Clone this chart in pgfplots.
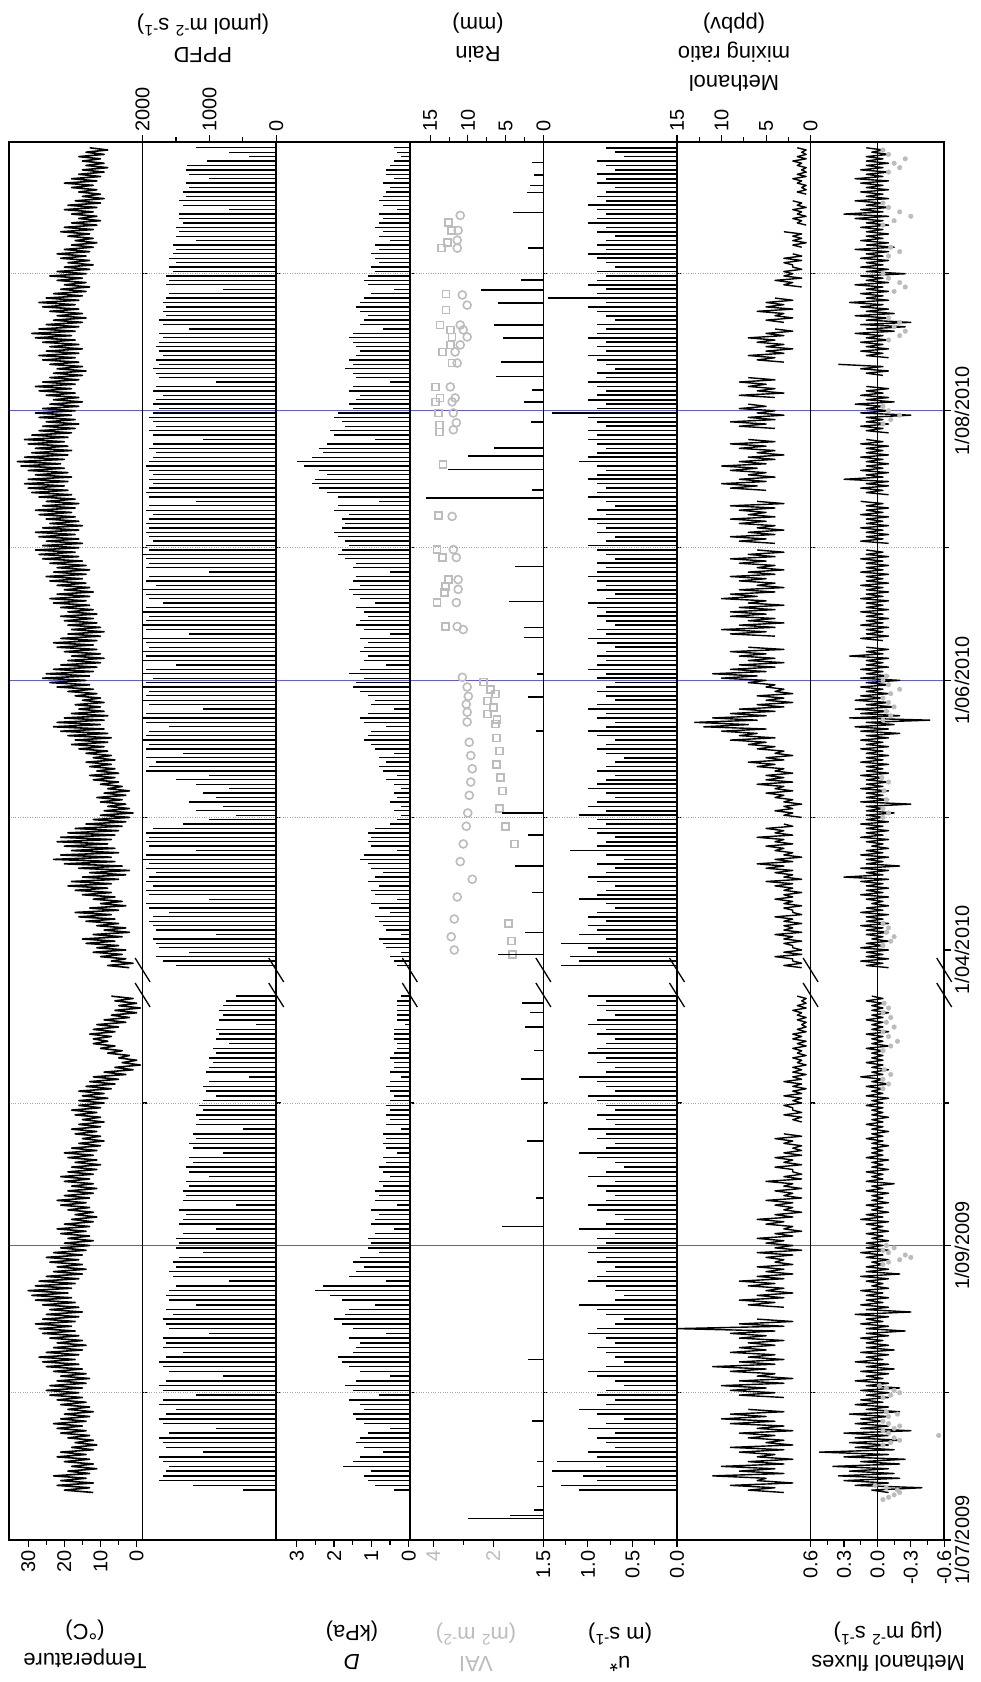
\documentclass[border=0pt]{standalone}
\usepackage{pgfplots}
\pgfplotsset{compat=1.18}
\usepackage{pgfplotstable}
\usepackage{fontspec}
\setmainfont{Liberation Sans}
\definecolor{gridblue}{RGB}{95,95,195}
\definecolor{lgrey}{RGB}{188,188,188}
\definecolor{dotgrey}{RGB}{165,165,165}

% time is typed in days (u): u = days since 1/07/2009 before the break,
% u = days since 1/07/2009 - 140 after it; the broken axis maps u to display units.
\pgfplotsset{
 panel/.style={scale only axis, width=133.6bp, height=1398bp, anchor=south west,
   ymin=0, ymax=1398, x dir=reverse,
   y filter/.expression={y<126 ? 4.75*y : 4.42*y-2.28},
   axis line style={line width=1.5bp},
   tick align=outside, ytick pos=right,
   ytick={294.5,859.6,1129.2}, minor ytick={147.3,437,722.6,992.2,1266.3}, yticklabels={},
   ymajorgrids, yminorgrids,
   major grid style={gridblue, line width=0.9bp},
   minor grid style={dotgrey, dotted, line width=0.9bp},
   major tick length=7bp, minor tick length=4.5bp,
   tick style={black, line width=1.1bp},
   tick label style={font=\fontsize{20}{22}\selectfont},
   /pgf/number format/assume math mode=true,
   /pgf/number format/1000 sep={},
 },
 bott/.style={xtick pos=left, xticklabel pos=left, xticklabel style={rotate=90, anchor=east}},
 topt/.style={xtick pos=right, xticklabel pos=right, xticklabel style={rotate=90, anchor=west}},
 dat/.style={black, line width=1.4bp, line join=round},
 comb/.style={xcomb, black, line width=1.3bp},
}

% Temperature, daily min/max (half-day steps), 10/07/2009 - 23/10/2009
\pgfplotstableread[row sep=\\,header=false]{
12\\20\\13\\22\\12\\21\\14\\23\\13\\19\\11\\18\\12\\20\\13\\22\\14\\21\\12\\18\\
11\\17\\12\\19\\13\\21\\14\\22\\15\\23\\14\\21\\13\\20\\12\\19\\13\\21\\14\\22\\
15\\24\\16\\25\\15\\24\\14\\22\\13\\21\\14\\23\\15\\25\\16\\26\\17\\27\\16\\25\\
15\\23\\14\\22\\15\\24\\16\\26\\17\\27\\18\\28\\17\\26\\16\\25\\15\\24\\16\\26\\
17\\28\\18\\29\\19\\30\\18\\28\\17\\27\\16\\25\\15\\23\\14\\22\\15\\24\\16\\25\\
15\\23\\14\\21\\13\\20\\12\\19\\13\\21\\14\\22\\13\\20\\12\\18\\11\\17\\12\\19\\
13\\21\\14\\22\\13\\20\\12\\19\\11\\18\\12\\20\\13\\21\\12\\19\\11\\18\\10\\17\\
11\\19\\12\\20\\11\\18\\10\\16\\9\\15\\10\\17\\11\\18\\10\\16\\9\\15\\10\\17\\
11\\18\\10\\16\\9\\16\\8\\15\\9\\16\\7\\14\\6\\13\\5\\12\\3\\9\\1\\6\\
-1\\4\\0\\5\\2\\8\\4\\10\\6\\12\\8\\12\\7\\13\\6\\12\\5\\11\\3\\9\\
2\\7\\0\\6\\-1\\5\\0\\6\\1\\7\\
}\Tpre
\pgfplotstableread[row sep=\\,header=false]{
2\\8\\1\\7\\3\\10\\4\\12\\3\\11\\5\\14\\6\\15\\4\\12\\2\\9\\3\\11\\
5\\14\\6\\16\\7\\17\\5\\13\\3\\10\\4\\12\\6\\15\\7\\17\\8\\19\\7\\18\\
5\\15\\3\\13\\2\\16\\4\\20\\6\\23\\7\\21\\5\\18\\6\\20\\8\\22\\7\\21\\
6\\19\\5\\17\\4\\14\\3\\12\\2\\10\\1\\9\\2\\8\\3\\10\\4\\11\\3\\9\\
2\\8\\4\\10\\5\\12\\6\\13\\5\\11\\6\\13\\7\\14\\6\\12\\7\\14\\8\\16\\
9\\18\\8\\17\\7\\19\\8\\21\\9\\23\\10\\22\\9\\20\\8\\18\\9\\16\\10\\17\\
9\\15\\10\\17\\11\\19\\12\\22\\13\\24\\14\\26\\13\\25\\12\\23\\11\\21\\10\\19\\
9\\18\\10\\20\\11\\22\\12\\23\\11\\21\\10\\19\\9\\18\\10\\19\\11\\20\\12\\21\\
11\\19\\12\\21\\13\\23\\14\\24\\13\\22\\12\\20\\13\\22\\14\\24\\15\\25\\14\\23\\
13\\22\\14\\24\\15\\26\\16\\27\\17\\28\\16\\26\\15\\25\\16\\27\\17\\28\\16\\26\\
15\\24\\16\\25\\17\\27\\18\\28\\17\\26\\16\\25\\17\\27\\18\\29\\19\\30\\20\\31\\
19\\30\\18\\28\\19\\30\\20\\32\\21\\33\\20\\31\\19\\29\\18\\28\\19\\30\\20\\31\\
19\\29\\18\\27\\17\\26\\16\\25\\17\\27\\18\\28\\17\\26\\16\\24\\15\\23\\16\\25\\
17\\27\\18\\28\\17\\26\\16\\24\\15\\23\\14\\22\\15\\24\\16\\26\\17\\27\\16\\25\\
15\\24\\16\\26\\17\\28\\18\\29\\17\\27\\16\\25\\15\\23\\14\\22\\15\\24\\16\\26\\
17\\27\\16\\25\\15\\23\\14\\21\\13\\20\\14\\22\\15\\24\\14\\22\\13\\20\\12\\19\\
13\\21\\14\\22\\13\\20\\12\\18\\11\\17\\12\\19\\13\\21\\12\\20\\11\\18\\10\\16\\
11\\18\\12\\20\\11\\19\\10\\17\\9\\15\\10\\16\\11\\18\\12\\20\\11\\18\\10\\16\\
9\\15\\8\\14\\9\\15\\10\\16\\9\\14\\8\\13\\
}\Tpost

% PPFD daily peaks
\pgfplotstableread[row sep=\\,header=false]{
500\\1250\\1750\\1700\\1650\\1600\\1700\\1750\\1100\\1650\\
1700\\1750\\1600\\900\\1700\\1750\\1650\\1500\\1750\\1700\\
1200\\1700\\1750\\1650\\800\\1600\\1700\\1750\\1650\\1400\\
1700\\1650\\1700\\1000\\1600\\1650\\1700\\1550\\1650\\1200\\
1600\\1650\\1600\\1500\\700\\1550\\1600\\1500\\1550\\1450\\
1100\\1500\\1450\\1500\\1400\\900\\1450\\1400\\1350\\1450\\
600\\1400\\1350\\1400\\1300\\1350\\1000\\1300\\1350\\1250\\
1300\\800\\1250\\1300\\1200\\1250\\500\\1200\\1150\\1200\\
1100\\1150\\1100\\900\\1050\\1100\\1000\\400\\1050\\1000\\
950\\1000\\900\\950\\700\\900\\850\\900\\300\\850\\
800\\850\\800\\750\\600\\
}\Ppre
\pgfplotstableread[row sep=\\,header=false]{
1500\\1700\\1800\\1300\\1750\\1800\\1850\\900\\1800\\1850\\
1900\\1850\\1600\\1900\\1950\\1000\\1900\\1950\\1850\\1950\\
1900\\1800\\1950\\1900\\2000\\1950\\1200\\1900\\1950\\1900\\
1950\\1850\\1400\\1000\\600\\1200\\800\\1300\\900\\1100\\
700\\1200\\1500\\1000\\1950\\1900\\1800\\1950\\1400\\1950\\
1900\\2000\\1950\\1900\\1600\\1950\\2000\\1950\\1100\\1900\\
2000\\1950\\1900\\2000\\1950\\1850\\2000\\1950\\1500\\2000\\
1950\\2000\\1900\\1950\\2000\\1300\\1950\\2000\\1950\\1900\\
2000\\1950\\1700\\1900\\1950\\2000\\1800\\1950\\1900\\1000\\
1950\\1900\\1950\\2000\\1900\\1950\\1850\\1900\\1950\\1900\\
1950\\1900\\1850\\1950\\1900\\1200\\1900\\1950\\1900\\1850\\
1900\\1850\\1900\\1950\\1900\\1850\\1800\\1900\\1850\\1100\\
1850\\1900\\1800\\1850\\1900\\1850\\1750\\1850\\1800\\1700\\
1850\\1800\\900\\1750\\1800\\1850\\1750\\1800\\1700\\1750\\
1800\\1750\\1700\\1750\\1300\\1700\\1750\\1650\\1700\\1650\\
1700\\1650\\1600\\800\\1650\\1600\\1650\\1550\\1600\\1500\\
1600\\1550\\1500\\1550\\1200\\1500\\1450\\1500\\1400\\1450\\
1450\\700\\1400\\1450\\1350\\1400\\1300\\1350\\1000\\1300\\
1350\\1340\\1030\\400\\700\\1200\\
}\Ppost

% D daily peaks
\pgfplotstableread[row sep=\\,header=false]{
0.4\\0.9\\1.1\\1.2\\1.0\\1.75\\1.5\\1.3\\0.7\\1.2\\
1.4\\1.3\\1.1\\0.5\\1.2\\1.4\\1.5\\1.2\\1.3\\1.6\\
0.8\\1.5\\1.7\\1.4\\0.5\\1.3\\1.6\\1.8\\1.9\\1.5\\
1.4\\1.3\\1.6\\0.6\\1.5\\1.8\\2.0\\1.7\\1.6\\0.9\\
1.8\\2.1\\2.5\\2.3\\0.6\\1.6\\1.4\\1.2\\1.5\\1.3\\
0.8\\1.1\\1.0\\1.1\\0.9\\0.4\\1.0\\0.9\\0.8\\1.0\\
0.3\\0.9\\0.8\\0.9\\0.7\\0.8\\0.5\\0.7\\0.8\\0.6\\
0.7\\0.3\\0.6\\0.7\\0.6\\0.7\\0.2\\0.6\\0.5\\0.6\\
0.5\\0.6\\0.5\\0.4\\0.5\\0.6\\0.5\\0.2\\0.5\\0.4\\
0.4\\0.5\\0.4\\0.3\\0.3\\0.4\\0.4\\0.4\\0.1\\0.3\\
0.3\\0.3\\0.3\\0.3\\0.2\\
}\Dpre
\pgfplotstableread[row sep=\\,header=false]{
0.3\\0.4\\0.5\\0.2\\0.6\\0.7\\0.8\\0.2\\0.6\\0.7\\
0.8\\0.9\\0.5\\0.8\\1.0\\0.3\\0.9\\1.0\\0.8\\1.1\\
0.9\\0.7\\1.0\\1.1\\1.3\\1.2\\0.3\\1.0\\1.1\\1.0\\
1.1\\0.9\\0.5\\0.3\\0.2\\0.4\\0.2\\0.5\\0.3\\0.4\\
0.2\\0.4\\0.6\\0.3\\0.7\\0.8\\0.6\\0.8\\0.4\\0.9\\
1.0\\1.2\\1.1\\1.0\\0.6\\1.2\\1.3\\1.1\\0.4\\1.0\\
0.9\\1.1\\1.3\\1.5\\1.4\\1.2\\1.6\\1.3\\0.6\\1.2\\
1.1\\1.3\\1.2\\1.1\\1.3\\0.5\\1.2\\1.4\\1.3\\1.1\\
1.2\\1.4\\0.9\\1.3\\1.5\\1.6\\1.3\\1.5\\1.4\\0.5\\
1.5\\1.4\\1.7\\1.9\\1.8\\1.6\\1.7\\1.9\\2.0\\1.8\\
1.7\\1.8\\1.6\\2.0\\1.9\\0.8\\1.9\\2.2\\2.4\\2.6\\
2.5\\2.2\\2.4\\2.8\\3.0\\2.6\\2.3\\2.4\\2.2\\0.9\\
2.0\\2.1\\1.7\\1.8\\2.0\\1.9\\1.5\\1.6\\1.4\\1.3\\
1.6\\1.5\\0.5\\1.4\\1.5\\1.7\\1.5\\1.6\\1.4\\1.3\\
1.4\\1.5\\1.6\\1.5\\0.7\\1.3\\1.2\\1.1\\1.3\\1.4\\
1.3\\1.2\\1.0\\0.4\\1.1\\1.2\\1.1\\0.9\\1.0\\0.8\\
0.9\\1.0\\0.8\\0.9\\0.5\\0.8\\0.7\\0.9\\0.8\\0.7\\
0.8\\0.3\\0.7\\0.8\\0.7\\0.6\\0.5\\0.7\\0.4\\0.6\\
0.6\\0.5\\0.4\\0.2\\0.3\\0.4\\
}\Dpost

% u* daily peaks
\pgfplotstableread[row sep=\\,header=false]{
1.1\\1.3\\0.9\\1.05\\1.4\\0.8\\1.35\\0.9\\1.0\\0.7\\
0.8\\0.9\\0.7\\1.0\\0.8\\0.6\\0.9\\1.1\\0.8\\0.7\\
0.9\\0.8\\0.6\\0.7\\0.9\\1.0\\0.8\\0.6\\0.7\\0.8\\
0.9\\0.7\\0.8\\1.0\\0.9\\0.7\\0.6\\0.8\\0.9\\1.1\\
0.7\\0.6\\0.7\\0.8\\1.0\\0.9\\0.8\\0.7\\0.9\\0.8\\
1.0\\0.9\\0.8\\0.9\\0.7\\1.1\\0.8\\0.6\\0.7\\0.9\\
1.0\\0.8\\0.7\\0.8\\0.9\\0.7\\1.0\\0.8\\0.6\\0.7\\
0.9\\1.1\\0.8\\0.7\\0.9\\0.8\\1.0\\0.7\\0.8\\0.9\\
0.7\\0.8\\0.9\\1.0\\0.7\\0.8\\0.9\\1.1\\0.8\\0.7\\
0.9\\0.8\\1.0\\0.9\\0.8\\0.7\\0.9\\0.8\\1.0\\0.9\\
0.7\\0.8\\0.9\\0.8\\1.0\\
}\Upre
\pgfplotstableread[row sep=\\,header=false]{
1.3\\1.1\\1.2\\0.9\\1.0\\1.3\\0.8\\1.1\\0.9\\1.0\\
0.8\\1.0\\0.9\\0.7\\0.8\\1.1\\0.9\\0.8\\0.7\\0.9\\
1.0\\0.8\\0.7\\0.9\\0.6\\0.8\\1.2\\0.9\\0.8\\0.7\\
0.9\\1.0\\0.8\\0.9\\1.1\\0.8\\1.0\\0.9\\0.7\\0.8\\
1.0\\0.9\\0.8\\0.7\\0.9\\0.8\\0.7\\0.6\\0.8\\0.9\\
0.8\\0.7\\0.9\\1.0\\0.8\\0.7\\0.9\\0.8\\1.0\\0.9\\
0.7\\0.8\\0.9\\0.8\\0.7\\0.9\\0.8\\1.0\\0.9\\0.8\\
0.9\\0.8\\0.7\\0.9\\1.0\\0.8\\0.9\\0.7\\0.8\\0.9\\
0.8\\0.9\\1.0\\0.8\\0.7\\0.9\\0.8\\0.9\\1.0\\0.9\\
0.8\\0.9\\0.7\\0.8\\0.9\\1.0\\0.8\\0.7\\0.9\\0.8\\
0.9\\1.0\\0.8\\0.9\\0.7\\0.8\\1.0\\0.9\\0.8\\0.9\\
1.0\\0.9\\0.8\\0.9\\1.1\\1.0\\0.9\\0.8\\0.9\\1.0\\
0.9\\1.0\\0.8\\0.9\\1.0\\1.4\\0.9\\0.8\\1.0\\0.9\\
0.8\\0.9\\1.0\\0.8\\0.9\\0.7\\0.8\\0.9\\1.0\\0.8\\
0.9\\0.8\\1.0\\0.9\\0.8\\0.9\\0.7\\0.8\\0.9\\1.0\\
0.8\\1.45\\0.9\\0.8\\1.0\\0.9\\0.8\\0.9\\0.7\\0.8\\
0.9\\1.0\\0.8\\0.9\\0.8\\0.7\\0.9\\0.8\\1.0\\0.9\\
0.8\\0.9\\1.0\\0.8\\0.9\\0.8\\0.7\\0.9\\0.8\\0.9\\
0.7\\0.8\\0.9\\0.6\\0.7\\0.8\\
}\Upost

% Methanol mixing ratio, daily low/high
\pgfplotstableread[row sep=\\,header=false]{
3\\7\\4\\9\\2\\6\\5\\11\\3\\8\\4\\10\\3\\7\\2\\6\\4\\8\\3\\9\\2\\5\\
3\\7\\4\\8\\2\\6\\3\\9\\4\\10\\5\\9\\3\\7\\nan\\nan\\nan\\nan\\3\\8\\
4\\9\\5\\10\\3\\8\\2\\6\\4\\9\\5\\11\\4\\8\\3\\7\\4\\9\\5\\8\\
4\\7\\3\\8\\5\\9\\4\\15\\3\\8\\2\\6\\nan\\nan\\nan\\nan\\3\\7\\4\\8\\
3\\6\\2\\5\\3\\7\\4\\8\\3\\6\\2\\5\\3\\6\\2\\4\\3\\5\\2\\6\\1\\4\\
2\\5\\3\\6\\2\\4\\1\\3\\2\\5\\3\\6\\2\\4\\1\\3\\2\\4\\2\\5\\
1\\3\\2\\4\\1\\3\\2\\5\\1\\3\\1\\2\\2\\4\\1\\3\\2\\4\\1\\3\\
1\\2\\1\\3\\2\\4\\1\\3\\nan\\nan\\nan\\nan\\1\\2\\1\\3\\1\\2\\2\\3\\
1\\2\\1\\3\\1\\2\\0.5\\2\\1\\3\\1\\2\\0.5\\2\\1\\2\\0.5\\1.5\\1\\2\\
0.5\\1.5\\1\\2\\0.5\\1.5\\0.5\\2\\1\\2\\0.5\\1.5\\0.5\\1\\0.5\\1.5\\0.5\\1.5\\1\\2\\
0.5\\1.5\\0.5\\1\\0.5\\1.5\\
}\Mpre
\pgfplotstableread[row sep=\\,header=false]{
1\\3\\1\\2\\2\\4\\1\\3\\1\\2\\2\\3\\1\\3\\2\\4\\1\\3\\2\\3\\
1\\3\\2\\4\\1\\2\\2\\3\\1\\3\\2\\4\\2\\3\\1\\3\\2\\4\\2\\5\\
1\\3\\2\\4\\2\\5\\3\\6\\2\\4\\1\\3\\2\\4\\3\\5\\2\\4\\3\\6\\
2\\4\\3\\5\\2\\3\\nan\\nan\\1\\3\\2\\4\\2\\3\\1\\3\\2\\4\\3\\5\\
2\\4\\3\\6\\2\\5\\3\\5\\2\\4\\3\\6\\4\\7\\3\\5\\2\\4\\3\\6\\
4\\7\\5\\9\\4\\8\\6\\10\\5\\12\\7\\13\\6\\11\\5\\9\\4\\8\\3\\6\\
2\\5\\3\\6\\2\\4\\3\\5\\4\\7\\5\\10\\6\\11\\5\\9\\4\\8\\3\\7\\
4\\8\\5\\9\\3\\7\\nan\\nan\\nan\\nan\\4\\9\\5\\10\\4\\8\\3\\7\\4\\9\\
5\\9\\4\\8\\3\\7\\5\\10\\6\\9\\4\\8\\3\\6\\4\\8\\5\\9\\4\\7\\
3\\6\\4\\8\\5\\9\\4\\7\\3\\6\\nan\\nan\\4\\8\\5\\9\\4\\7\\3\\6\\
4\\8\\5\\9\\4\\7\\5\\8\\4\\9\\3\\6\\nan\\nan\\nan\\nan\\5\\9\\6\\10\\
5\\8\\4\\7\\5\\9\\6\\10\\5\\8\\4\\7\\3\\6\\4\\8\\5\\9\\4\\7\\
nan\\nan\\nan\\nan\\4\\8\\5\\9\\4\\7\\3\\6\\4\\8\\5\\7\\nan\\nan\\4\\8\\
3\\6\\4\\7\\5\\8\\4\\7\\nan\\nan\\nan\\nan\\nan\\nan\\3\\6\\4\\7\\3\\5\\
2\\5\\3\\6\\4\\7\\3\\5\\2\\4\\nan\\nan\\3\\5\\2\\4\\3\\6\\2\\5\\
3\\5\\2\\4\\nan\\nan\\nan\\nan\\1\\3\\2\\4\\1\\3\\2\\3\\1\\2\\2\\3\\
1\\3\\1\\2\\nan\\nan\\1\\2\\0.5\\2\\1\\2\\1\\3\\nan\\nan\\0.5\\1.5\\1\\2\\
0.5\\1.5\\1\\2\\0.5\\1.5\\1\\2\\nan\\nan\\0.5\\1.5\\0.5\\1\\0.5\\1.5\\1\\2\\0.5\\1.5\\
0.5\\1\\0.5\\1.5\\1\\2\\0.5\\1.5\\0.5\\1\\0.5\\1.5\\
}\Mpost

% Methanol flux, daily low/high
\pgfplotstableread[row sep=\\,header=false]{
-0.1\\0.05\\-0.4\\0.2\\-0.1\\0.3\\-0.2\\0.35\\-0.15\\0.25\\-0.1\\0.4\\-0.2\\0.15\\-0.25\\0.3\\-0.1\\0.52\\-0.15\\0.2\\-0.1\\0.25\\
-0.2\\0.2\\-0.1\\0.3\\-0.3\\0.15\\-0.1\\0.2\\-0.05\\0.15\\-0.1\\0.25\\-0.2\\0.1\\-0.1\\0.2\\-0.05\\0.15\\-0.1\\0.1\\
-0.1\\0.15\\-0.2\\0.1\\-0.1\\0.2\\-0.05\\0.1\\-0.1\\0.15\\-0.15\\0.1\\-0.1\\0.2\\-0.05\\0.1\\-0.1\\0.15\\-0.15\\0.1\\
-0.1\\0.1\\-0.05\\0.15\\-0.1\\0.1\\-0.25\\0.1\\-0.1\\0.15\\-0.05\\0.1\\-0.1\\0.2\\-0.3\\0.1\\-0.1\\0.15\\-0.05\\0.1\\
-0.1\\0.1\\-0.05\\0.15\\-0.1\\0.05\\-0.05\\0.1\\-0.1\\0.15\\-0.2\\0.1\\-0.1\\0.1\\-0.05\\0.05\\-0.1\\0.1\\-0.05\\0.15\\-0.1\\0.1\\
-0.05\\0.1\\-0.1\\0.05\\-0.05\\0.1\\-0.1\\0.05\\-0.05\\0.1\\-0.1\\0.15\\-0.05\\0.1\\-0.1\\0.05\\-0.05\\0.1\\-0.1\\0.05\\
-0.05\\0.05\\-0.1\\0.1\\-0.05\\0.05\\-0.15\\0.1\\-0.05\\0.05\\-0.05\\0.1\\-0.1\\0.05\\-0.05\\0.05\\-0.1\\0.1\\-0.05\\0.05\\
-0.05\\0.05\\-0.1\\0.05\\-0.05\\0.1\\-0.05\\0.05\\-0.1\\0.05\\-0.05\\0.1\\-0.05\\0.05\\-0.1\\0.05\\-0.05\\0.05\\-0.05\\0.1\\
-0.05\\0.05\\-0.1\\0.1\\-0.05\\0.05\\-0.05\\0.1\\-0.1\\0.05\\-0.05\\0.15\\-0.05\\0.05\\-0.1\\0.05\\-0.05\\0.1\\-0.05\\0.05\\
-0.05\\0.05\\-0.05\\0.1\\-0.1\\0.05\\-0.05\\0.05\\-0.05\\0.1\\-0.1\\0.05\\-0.05\\0.05\\-0.05\\0.1\\-0.05\\0.05\\-0.1\\0.05\\
-0.05\\0.05\\-0.05\\0.1\\-0.05\\0.05\\
}\Fpre
\pgfplotstableread[row sep=\\,header=false]{
-0.1\\0.1\\-0.05\\0.15\\-0.1\\0.1\\-0.05\\0.1\\-0.1\\0.15\\-0.05\\0.1\\-0.1\\0.05\\-0.05\\0.1\\-0.1\\0.1\\-0.05\\0.15\\
-0.1\\0.1\\-0.05\\0.1\\-0.1\\0.15\\-0.05\\0.1\\-0.1\\0.05\\-0.05\\0.1\\-0.1\\0.15\\-0.05\\0.1\\-0.1\\0.1\\-0.05\\0.15\\
-0.1\\0.3\\-0.05\\0.1\\-0.1\\0.15\\-0.2\\0.1\\-0.05\\0.1\\-0.1\\0.15\\-0.05\\0.1\\-0.1\\0.05\\-0.05\\0.1\\-0.1\\0.15\\
-0.05\\0.1\\-0.1\\0.1\\-0.05\\0.15\\-0.1\\0.1\\-0.05\\0.1\\-0.15\\0.1\\-0.05\\0.1\\-0.3\\0.15\\-0.1\\0.1\\-0.05\\0.1\\
-0.1\\0.15\\-0.05\\0.1\\-0.1\\0.1\\-0.05\\0.15\\-0.1\\0.1\\-0.05\\0.1\\-0.1\\0.15\\-0.05\\0.1\\-0.1\\0.1\\-0.05\\0.15\\
-0.1\\0.1\\-0.05\\0.15\\-0.1\\0.1\\-0.2\\0.15\\-0.1\\0.2\\-0.15\\0.1\\-0.47\\0.25\\-0.2\\0.15\\-0.1\\0.2\\-0.15\\0.1\\
-0.1\\0.2\\-0.05\\0.15\\-0.1\\0.1\\-0.05\\0.15\\-0.1\\0.1\\-0.2\\0.15\\-0.1\\0.1\\-0.05\\0.15\\-0.1\\0.1\\-0.05\\0.1\\
-0.1\\0.25\\-0.05\\0.1\\-0.1\\0.1\\nan\\nan\\-0.05\\0.15\\-0.1\\0.1\\-0.05\\0.1\\-0.1\\0.15\\-0.05\\0.1\\-0.1\\0.1\\
-0.05\\0.15\\-0.1\\0.1\\-0.05\\0.1\\-0.1\\0.15\\-0.05\\0.1\\-0.1\\0.1\\-0.05\\0.15\\-0.1\\0.1\\-0.05\\0.1\\-0.1\\0.15\\
-0.05\\0.1\\-0.1\\0.1\\-0.05\\0.15\\-0.1\\0.1\\-0.05\\0.1\\nan\\nan\\-0.1\\0.15\\-0.05\\0.1\\-0.1\\0.1\\-0.05\\0.15\\
-0.1\\0.1\\-0.05\\0.1\\-0.1\\0.15\\-0.05\\0.1\\-0.1\\0.1\\-0.05\\0.15\\nan\\nan\\-0.1\\0.1\\-0.05\\0.15\\-0.1\\0.1\\
-0.1\\0.3\\-0.05\\0.1\\-0.1\\0.15\\-0.05\\0.1\\-0.1\\0.1\\-0.05\\0.15\\-0.1\\0.1\\-0.05\\0.1\\-0.1\\0.15\\-0.05\\0.1\\
nan\\nan\\-0.1\\0.1\\-0.05\\0.15\\-0.1\\0.1\\-0.05\\0.1\\-0.3\\0.15\\-0.1\\0.1\\-0.05\\0.2\\-0.15\\0.1\\-0.1\\0.15\\
-0.05\\0.1\\-0.1\\0.1\\nan\\nan\\nan\\nan\\-0.05\\0.1\\-0.1\\0.15\\-0.05\\0.35\\nan\\nan\\-0.1\\0.1\\-0.05\\0.15\\
-0.1\\0.1\\-0.05\\0.15\\-0.1\\0.1\\-0.05\\0.2\\-0.15\\0.1\\-0.25\\0.15\\-0.3\\0.1\\-0.1\\0.2\\-0.15\\0.1\\-0.1\\0.15\\
-0.05\\0.25\\-0.1\\0.1\\-0.05\\0.15\\-0.1\\0.1\\-0.05\\0.2\\-0.1\\0.1\\-0.05\\0.15\\-0.25\\0.1\\-0.1\\0.15\\-0.05\\0.1\\
-0.1\\0.15\\-0.05\\0.1\\-0.1\\0.2\\-0.15\\0.1\\-0.1\\0.15\\-0.05\\0.1\\-0.1\\0.1\\-0.05\\0.15\\-0.1\\0.1\\-0.05\\0.2\\
-0.1\\0.3\\-0.05\\0.15\\-0.1\\0.1\\-0.05\\0.2\\-0.1\\0.1\\-0.05\\0.15\\-0.1\\0.1\\-0.05\\0.15\\-0.1\\0.2\\-0.05\\0.1\\
-0.1\\0.15\\-0.05\\0.1\\-0.1\\0.1\\-0.05\\0.1\\-0.1\\0.05\\-0.05\\0.1\\
}\Fpost

\begin{document}
\begin{tikzpicture}[font=\fontsize{22}{29}\selectfont]
% 1 Temperature
\begin{axis}[panel, at={(0bp,0bp)}, xmin=-1.65, xmax=35.3, xtick={0,10,20,30}, minor x tick num=1, bott]
\addplot[dat, line width=1.6bp] table[x index=0, y index=0, y expr=10+0.5*\coordindex]{\Tpre};
\addplot[dat, line width=1.6bp] table[x index=0, y index=0, y expr=130+0.5*\coordindex]{\Tpost};
\end{axis}
% 2 PPFD
\begin{axis}[panel, at={(133.6bp,0bp)}, xmin=0, xmax=2000, xtick={0,1000,2000}, minor x tick num=1, topt]
\addplot[comb] table[x index=0, y index=0, y expr=10.5+\coordindex]{\Ppre};
\addplot[comb] table[x index=0, y index=0, y expr=130.5+\coordindex]{\Ppost};
\end{axis}
% 3 D
\begin{axis}[panel, at={(267.2bp,0bp)}, xmin=-0.03, xmax=3.55, xtick={0,1,2,3}, minor x tick num=1, bott]
\addplot[comb] table[x index=0, y index=0, y expr=10.5+\coordindex]{\Dpre};
\addplot[comb] table[x index=0, y index=0, y expr=130.5+\coordindex]{\Dpost};
\end{axis}
% 4a VAI
\begin{axis}[panel, at={(400.8bp,0bp)}, xmin=0.33, xmax=4.78, xtick={2,4}, minor x tick num=1, bott, xticklabel style={text=lgrey}]
\addplot[only marks, mark=o, mark size=4bp, mark options={draw=lgrey, line width=1.6bp}] coordinates {
(3.10,300.2) (3.17,296.8) (3.20,294.6) (3.20,292.8) (3.03,282.2) (2.87,279.9) (3.10,275.4) (3.00,274.3)
(2.87,272.7) (3.10,270.9) (3.27,269.3) (3.20,266.8) (3.43,261.4) (3.27,258.9) (3.37,258.0) (3.33,255.5)
(3.23,253.3) (3.33,251.7) (3.37,232.1) (3.33,224.6) (3.23,222.8) (3.17,217.8) (3.17,215.6) (3.23,212.6)
(3.20,207.2) (3.00,206.5) (3.03,195.7) (2.87,193.5) (2.83,191.4) (2.90,189.6) (2.87,187.8) (2.87,185.6)
(2.80,181) (2.75,178) (2.70,175) (2.75,172) (2.80,169) (2.85,165) (2.90,162) (3.00,158) (3.10,154)
(2.70,150) (3.20,146) (3.30,141) (3.40,137) (3.30,134)};
\addplot[only marks, mark=square, mark size=3.5bp, mark options={draw=lgrey, line width=1.6bp}] coordinates {
(3.50,298.6) (3.40,296.8) (3.53,294.1) (3.73,292.8) (3.57,282.4) (3.57,278.8) (3.77,275.4) (3.43,274.3)
(3.37,272.7) (3.43,270.9) (3.70,269.3) (3.37,266.8) (3.93,261.4) (3.93,258.0) (3.77,258.9) (3.83,255.5)
(3.80,252.8) (3.80,251.2) (3.67,243.8) (3.83,232.3) (3.87,224.6) (3.70,222.8) (3.50,217.8) (3.60,216.3)
(3.63,214.9) (3.87,212.6) (3.60,207.2) (2.33,194.6) (2.10,193.0) (1.93,191.9) (2.20,190.3) (2.00,188.9)
(2.20,187.4) (1.87,186.2) (1.93,185.1) (1.90,182) (1.80,179) (1.90,176) (1.75,173) (1.70,170) (1.80,166)
(1.60,162) (1.30,158) (1.50,140) (1.40,136) (1.35,133)};
\end{axis}
% 4b Rain
\begin{axis}[panel, at={(400.8bp,0bp)}, xmin=0, xmax=17.7, xtick={0,5,10,15}, minor x tick num=1, topt, ymajorgrids=false, yminorgrids=false]
\addplot[xcomb, black, line width=1.5bp] coordinates {
(10,4.5) (4.4,5.2) (1.3,6.3) (0.8,11.3) (0.8,16.5) (1.5,25) (2,38) (5.5,66) (1,72) (2.2,84) (3,97)
(1.2,103) (2.5,108) (1.8,111) (2.8,113)
(6,133) (2.5,138) (1.5,147) (3.7,153) (2,160) (5.5,165) (1,183.5) (2,191.2) (0.8,196.4) (2.6,204.7)
(2.6,207) (4.6,212.9) (3.7,220.8) (15.5,236.3) (1.5,238.1) (12.6,242.7) (10,245.8) (6.5,247.6)
(1.7,253.5) (2.6,258) (1.5,260.7) (6.3,263.7) (5.6,267) (5.3,272.5) (6.5,275.4) (6,280.4) (8.3,283.3)
(3,285.6) (2,292.8) (4,300.9) (2.2,305.4) (1.8,307) (1.2,309.3) (1.5,312.2)};
\end{axis}
% 5 u*
\begin{axis}[panel, at={(534.4bp,0bp)}, xmin=0, xmax=1.5, xtick={0,0.5,1,1.5}, minor x tick num=1, bott,
  xticklabel style={/pgf/number format/.cd, fixed, fixed zerofill, precision=1}]
\addplot[comb, line width=1.6bp] table[x index=0, y index=0, y expr=10.5+\coordindex]{\Upre};
\addplot[comb, line width=1.6bp] table[x index=0, y index=0, y expr=130.5+\coordindex]{\Upost};
\end{axis}
% 6 Methanol mixing ratio
\begin{axis}[panel, at={(668bp,0bp)}, xmin=0, xmax=15, xtick={0,5,10,15}, minor x tick num=1, topt, unbounded coords=jump]
\addplot[dat] table[x index=0, y index=0, y expr=10+0.5*\coordindex]{\Mpre};
\addplot[dat] table[x index=0, y index=0, y expr=130+0.5*\coordindex]{\Mpost};
\end{axis}
% 7 Methanol fluxes
\begin{axis}[panel, at={(801.6bp,0bp)}, xmin=-0.6, xmax=0.6, xtick={-0.6,-0.3,0,0.3,0.6}, minor x tick num=1, bott,
  xticklabel style={/pgf/number format/.cd, fixed, fixed zerofill, precision=1},
  unbounded coords=jump,
  yticklabels={1/09/2009,1/06/2010,1/08/2010}, yticklabel style={rotate=90, anchor=north},
  extra y ticks={0,590}, extra y tick labels={1/07/2009,1/04/2010}, extra y tick style={grid=none}]
\draw[black, line width=1.1bp] (axis cs:0,0) -- (axis cs:0,1398);
\addplot[dat] table[x index=0, y index=0, y expr=10+0.5*\coordindex]{\Fpre};
\addplot[dat] table[x index=0, y index=0, y expr=130+0.5*\coordindex]{\Fpost};
\addplot[only marks, mark=*, mark size=2.3bp, mark options={fill=lgrey, draw=lgrey}] coordinates {
(-0.05,8.5) (-0.1,9) (-0.15,9.5) (-0.2,10) (-0.18,10.5) (-0.08,11) (0.02,11.5)
(-0.05,20) (-0.12,20.5) (-0.2,21) (-0.15,21.5) (-0.55,22) (-0.1,22.5) (-0.05,23) (-0.15,23.5) (-0.2,24)
(-0.1,24.5) (-0.05,25) (-0.1,26) (-0.18,26.5) (-0.08,27)
(-0.05,30) (-0.12,30.5) (-0.2,31) (-0.15,31.5) (-0.08,32) (-0.02,32.5)
(-0.05,58) (-0.1,58.5) (-0.2,59) (-0.3,59.5) (-0.25,60) (-0.1,60.5) (-0.05,61) (-0.15,61.5) (-0.08,62)
(-0.05,95) (-0.1,96) (-0.05,97) (-0.12,98) (-0.06,99)
(-0.05,103) (-0.12,104) (-0.18,105) (-0.1,106) (-0.05,107) (-0.15,108) (-0.08,109) (-0.12,110) (-0.05,111)
(-0.1,112) (-0.06,113)
(-0.05,135) (-0.12,136) (-0.15,137) (-0.08,138) (-0.1,139) (-0.05,140)
(-0.05,164) (-0.1,165) (-0.05,166) (-0.08,168) (-0.06,170) (-0.1,172) (-0.04,173)
(-0.05,186) (-0.12,187) (-0.08,188) (-0.15,189) (-0.1,190) (-0.05,191) (-0.12,192) (-0.2,193) (-0.1,194)
(-0.05,195) (-0.08,196)
(-0.05,253) (-0.12,254) (-0.2,255) (-0.1,256) (-0.05,257)
(-0.1,272) (-0.2,273) (-0.25,274) (-0.15,275) (-0.2,276) (-0.1,277)
(-0.15,283) (-0.25,284) (-0.2,285) (-0.1,286) (-0.05,287)
(-0.1,291) (-0.2,292) (-0.12,293)
(-0.05,298) (-0.15,299) (-0.3,300) (-0.2,301) (-0.1,302) (-0.05,303)
(-0.1,310) (-0.2,311) (-0.15,312) (-0.25,313) (-0.1,314) (-0.05,315)};
\end{axis}
% break marks
\foreach \xb in {133.6,267.2,400.8,534.4,668.0,801.6,935.2} {
  \draw[line width=1.3bp] (\xb bp-7.5bp,582bp) -- (\xb bp+7.5bp,558bp);
  \draw[line width=1.3bp] (\xb bp-7.5bp,557bp) -- (\xb bp+7.5bp,533bp);
}
% axis titles (upside down)
\node[rotate=180, align=center] at (76bp,-104bp) {Temperature\\(°C)};
\node[rotate=180, align=center] at (343bp,-105bp) {\textit{D}\\(kPa)};
\node[rotate=180, align=center, text=lgrey] at (467bp,-107bp) {VAI\\(m\textsuperscript{2} m\textsuperscript{-2})};
\node[rotate=180, align=center] at (611bp,-107bp) {u*\\(m s\textsuperscript{-1})};
\node[rotate=180, align=center] at (879bp,-107bp) {Methanol fluxes\\(µg m\textsuperscript{-2} s\textsuperscript{-1})};
\node[rotate=180, align=center] at (194bp,1502bp) {PPFD\\(µmol m\textsuperscript{-2} s\textsuperscript{-1})};
\node[rotate=180, align=center] at (469bp,1502bp) {Rain\\(mm)};
\node[rotate=180, align=center] at (725bp,1488bp) {Methanol\\mixing ratio\\(ppbv)};
\pgfresetboundingbox
\path[use as bounding box] (-9bp,-142bp) rectangle (972bp,1540bp);
\end{tikzpicture}
\end{document}
